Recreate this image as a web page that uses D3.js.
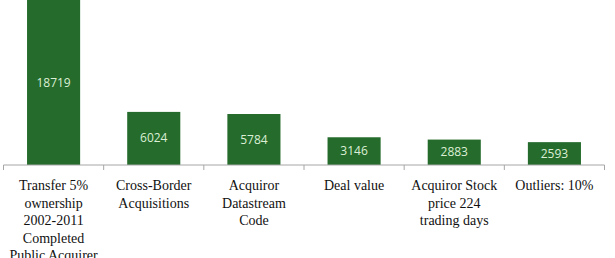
<!DOCTYPE html>
<html>
<head>
<meta charset="utf-8">
<script src="https://cdn.jsdelivr.net/npm/d3@7"></script>
<style>
  body { margin: 0; background: #fff; }
  .barLabel { font-family: "Open Sans", "Noto Sans", sans-serif; font-size: 12px; fill: #dcefd6; }
  .catLabel { font-family: "Liberation Serif", "Times New Roman", serif; font-size: 14px; fill: #111; }
</style>
</head>
<body>
<script>
var categories = [
    ["Transfer 5%", "ownership", "2002-2011", "Completed", "Public Acquirer"],
    ["Cross-Border", "Acquisitions"],
    ["Acquiror", "Datastream", "Code"],
    ["Deal value"],
    ["Acquiror Stock", "price 224", "trading days"],
    ["Outliers: 10%"]
];
var counts = [18719, 6024, 5784, 3146, 2883, 2593];

var width = 615, height = 258;
var left = 3.5, right = 604.5, axisY = 165;

var svg = d3.select("body").append("svg")
    .attr("width", width)
    .attr("height", height);

var xScale = d3.scaleBand()
    .domain(d3.range(counts.length))
    .range([left, right])
    .paddingInner(0.47)
    .paddingOuter(0.235);

var yScale = d3.scaleLinear()
    .domain([0, d3.max(counts)])
    .range([axisY, 0]);

//bars
svg.selectAll(".bar")
    .data(counts)
    .enter()
    .append("rect")
    .attr("class", "bar")
    .attr("x", function(d, i){ return xScale(i); })
    .attr("width", xScale.bandwidth())
    .attr("y", function(d){ return yScale(d); })
    .attr("height", function(d){ return axisY - yScale(d); })
    .style("fill", "#256b2b");

//value labels in middle of bars
svg.selectAll(".barLabel")
    .data(counts)
    .enter()
    .append("text")
    .attr("class", "barLabel")
    .attr("text-anchor", "middle")
    .attr("x", function(d, i){ return xScale(i) + xScale.bandwidth() / 2; })
    .attr("y", function(d){ return (yScale(d) + axisY) / 2 + 4; })
    .text(function(d){ return d; });

//category axis line and tick marks between categories
var tickScale = d3.scaleLinear().domain([0, counts.length]).range([left, right]);
svg.append("line")
    .attr("class", "axisLine")
    .attr("x1", left).attr("x2", right)
    .attr("y1", axisY).attr("y2", axisY)
    .style("stroke", "#a6a6a6");
svg.selectAll(".tick")
    .data(d3.range(counts.length + 1))
    .enter()
    .append("line")
    .attr("x1", function(d){ return tickScale(d); })
    .attr("x2", function(d){ return tickScale(d); })
    .attr("y1", axisY).attr("y2", axisY + 5)
    .style("stroke", "#a6a6a6");

//category labels
var cats = svg.selectAll(".catLabel")
    .data(categories)
    .enter()
    .append("text")
    .attr("class", "catLabel")
    .attr("text-anchor", "middle")
    .attr("x", function(d, i){ return xScale(i) + xScale.bandwidth() / 2; })
    .attr("y", 190);

cats.selectAll("tspan")
    .data(function(d){ return d; })
    .enter()
    .append("tspan")
    .attr("x", function(){ return d3.select(this.parentNode).attr("x"); })
    .attr("dy", function(d, i){ return i === 0 ? 0 : 17.5; })
    .text(function(d){ return d; });
</script>
</body>
</html>
